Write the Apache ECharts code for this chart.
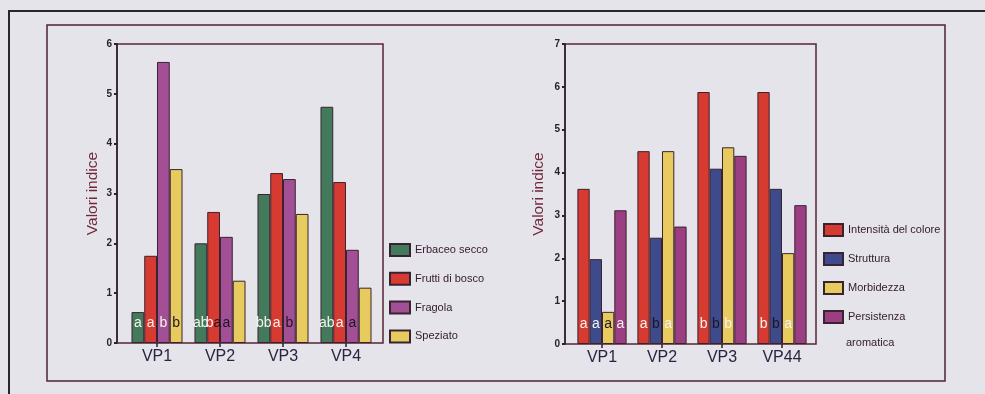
<!DOCTYPE html>
<html>
<head>
<meta charset="utf-8">
<script src="https://cdn.jsdelivr.net/npm/echarts@6/dist/echarts.min.js"></script>
<style>
  html, body { margin: 0; padding: 0; background: #e4e4ea; }
  #chart { width: 985px; height: 394px; }
</style>
</head>
<body>
<div id="chart"></div>
<script>
// ---- data: aroma descriptors (left panel) ----
const categoriesLeft = ['VP1', 'VP2', 'VP3', 'VP4'];
const erbaceoSecco  = [0.62, 2.00, 2.99, 4.74];
const fruttiDiBosco = [1.75, 2.63, 3.41, 3.23];
const fragola       = [5.64, 2.13, 3.29, 1.87];
const speziato      = [3.49, 1.25, 2.59, 1.11];
const ticksLeft = [0, 1, 2, 3, 4, 5, 6];

// ---- data: structure descriptors (right panel) ----
const categoriesRight = ['VP1', 'VP2', 'VP3', 'VP44'];
const intensitaColore      = [3.62, 4.50, 5.88, 5.88];
const struttura            = [1.98, 2.48, 4.09, 3.62];
const morbidezza           = [0.75, 4.50, 4.59, 2.12];
const persistenzaAromatica = [3.12, 2.74, 4.39, 3.24];
const ticksRight = [0, 1, 2, 3, 4, 5, 6, 7];

// ---- significance letters printed at the foot of each bar ----
const lettersErbaceo    = ['a', 'ab', 'bb', 'ab'];
const lettersFrutti     = ['a', 'ba', 'a', 'a'];
const lettersFragola    = ['b', 'a', 'b', 'a'];
const lettersSpeziato   = ['b', '', '', ''];
const lettersIntensita  = ['a', 'a', 'b', 'b'];
const lettersStruttura  = ['a', 'b', 'b', 'b'];
const lettersMorbidezza = ['a', 'a', 'b', 'a'];
const lettersPersistenza = ['a', '', '', ''];

// ink of each letter: w = light, k = dark
const inkErbaceo    = ['w', 'ww', 'ww', 'ww'];
const inkFrutti     = ['w', 'wk', 'w', 'w'];
const inkFragola    = ['w', 'k', 'k', 'k'];
const inkSpeziato   = ['k', '', '', ''];
const inkIntensita  = ['w', 'w', 'w', 'w'];
const inkStruttura  = ['w', 'k', 'k', 'k'];
const inkMorbidezza = ['k', 'w', 'w', 'w'];
const inkPersistenza = ['w', '', '', ''];

const FONT = '"Liberation Sans", Arial, sans-serif';
const DARK = '#2a1e30';
const FRAME = '#5a2434';
const LEGEND_TEXT = '#331a2e';

function letterLabel(letters, ink) {
  return {
    show: true,
    position: 'insideBottom',
    distance: 13,
    formatter: p => {
      const s = letters[p.dataIndex] || '';
      const k = ink[p.dataIndex] || '';
      let out = '';
      for (let i = 0; i < s.length; i++) out += '{' + (k[i] || 'w') + '|' + s[i] + '}';
      return out;
    },
    rich: {
      w: { color: '#f6f3ef', fontSize: 14, fontFamily: FONT },
      k: { color: '#1c1626', fontSize: 14, fontFamily: FONT }
    }
  };
}

function barSeries(name, values, color, letters, ink, axisIdx) {
  return {
    name, type: 'bar', data: values,
    xAxisIndex: axisIdx, yAxisIndex: axisIdx,
    barGap: '0%', barCategoryGap: axisIdx === 1 ? '19%' : '18%',
    itemStyle: { color, borderColor: '#3a2330', borderWidth: 1 },
    label: letterLabel(letters, ink),
    emphasis: { disabled: true }
  };
}

function frameYAxis(grid, ticks, nameGap) {
  return {
    gridIndex: grid, type: 'value',
    min: ticks[0], max: ticks[ticks.length - 1], interval: ticks[1] - ticks[0],
    name: 'Valori indice', nameLocation: 'middle', nameGap,
    nameTextStyle: { color: '#72283b', fontSize: 15.5, fontFamily: FONT },
    axisLine: { show: true, lineStyle: { color: DARK, width: 1.5 } },
    axisTick: { show: true, length: 3, lineStyle: { color: DARK, width: 2 } },
    axisLabel: { color: '#2a2228', fontSize: 10, fontWeight: 'bold', fontFamily: FONT, margin: 5 },
    splitLine: { show: false }
  };
}

function hiddenYAxis(grid, ticks) {
  return { gridIndex: grid, type: 'value', show: false,
    min: ticks[0], max: ticks[ticks.length - 1], splitLine: { show: false } };
}

function categoryXAxis(grid, cats) {
  return {
    gridIndex: grid, type: 'category', data: cats,
    axisLine: { show: false },
    axisTick: { show: true, alignWithLabel: true, length: 4, lineStyle: { color: DARK, width: 1.5 } },
    axisLabel: { color: '#2b2340', fontSize: 16, fontFamily: FONT, margin: 6 }
  };
}

const chart = echarts.init(document.getElementById('chart'), null, { renderer: 'canvas' });

chart.setOption({
  backgroundColor: '#e4e4ea',
  animation: false,
  grid: [
    { left: 117, top: 44, width: 266, height: 299, show: true, borderColor: FRAME, borderWidth: 1.5, backgroundColor: 'transparent' },
    { left: 125.5, top: 44, width: 252, height: 299 },
    { left: 565, top: 44, width: 251, height: 300, show: true, borderColor: FRAME, borderWidth: 1.5, backgroundColor: 'transparent' },
    { left: 572, top: 44, width: 240, height: 300 }
  ],
  xAxis: [
    { gridIndex: 0, type: 'category', data: categoriesLeft, show: false },
    categoryXAxis(1, categoriesLeft),
    { gridIndex: 2, type: 'category', data: categoriesRight, show: false },
    categoryXAxis(3, categoriesRight)
  ],
  yAxis: [
    frameYAxis(0, ticksLeft, 16),
    hiddenYAxis(1, ticksLeft),
    frameYAxis(2, ticksRight, 18),
    hiddenYAxis(3, ticksRight)
  ],
  legend: [
    {
      data: ['Erbaceo secco', 'Frutti di bosco', 'Fragola', 'Speziato'],
      orient: 'vertical', left: 389, top: 243, padding: 0,
      itemWidth: 20, itemHeight: 12, itemGap: 14.8, icon: 'rect',
      textStyle: { fontSize: 11, color: LEGEND_TEXT, fontFamily: FONT, lineHeight: 12 },
      selectedMode: false
    },
    {
      data: ['Intensità del colore', 'Struttura', 'Morbidezza', 'Persistenza aromatica'],
      orient: 'vertical', left: 823, top: 223, padding: 0,
      itemWidth: 19, itemHeight: 12, itemGap: 15, icon: 'rect',
      formatter: name => name === 'Persistenza aromatica' ? 'Persistenza' : name,
      textStyle: { fontSize: 11, color: LEGEND_TEXT, fontFamily: FONT, lineHeight: 12 },
      selectedMode: false
    }
  ],
  graphic: [
    { type: 'rect', shape: { x: 9, y: 11, width: 1000, height: 420 }, style: { fill: 'none', stroke: '#28262c', lineWidth: 2 }, silent: true },
    { type: 'rect', shape: { x: 47, y: 25, width: 898, height: 356 }, style: { fill: 'none', stroke: '#4e2232', lineWidth: 1.5 }, silent: true },
    { type: 'text', left: 846, top: 337, style: { text: 'aromatica', fill: LEGEND_TEXT, fontSize: 11, fontFamily: FONT }, silent: true }
  ],
  series: [
    barSeries('Erbaceo secco', erbaceoSecco, '#437a5c', lettersErbaceo, inkErbaceo, 1),
    barSeries('Frutti di bosco', fruttiDiBosco, '#d63a30', lettersFrutti, inkFrutti, 1),
    barSeries('Fragola', fragola, '#a24f96', lettersFragola, inkFragola, 1),
    barSeries('Speziato', speziato, '#e8cb5e', lettersSpeziato, inkSpeziato, 1),
    barSeries('Intensità del colore', intensitaColore, '#d63a30', lettersIntensita, inkIntensita, 3),
    barSeries('Struttura', struttura, '#3d4a8c', lettersStruttura, inkStruttura, 3),
    barSeries('Morbidezza', morbidezza, '#e8cb5e', lettersMorbidezza, inkMorbidezza, 3),
    barSeries('Persistenza aromatica', persistenzaAromatica, '#9c3f82', lettersPersistenza, inkPersistenza, 3)
  ]
});
</script>
</body>
</html>
